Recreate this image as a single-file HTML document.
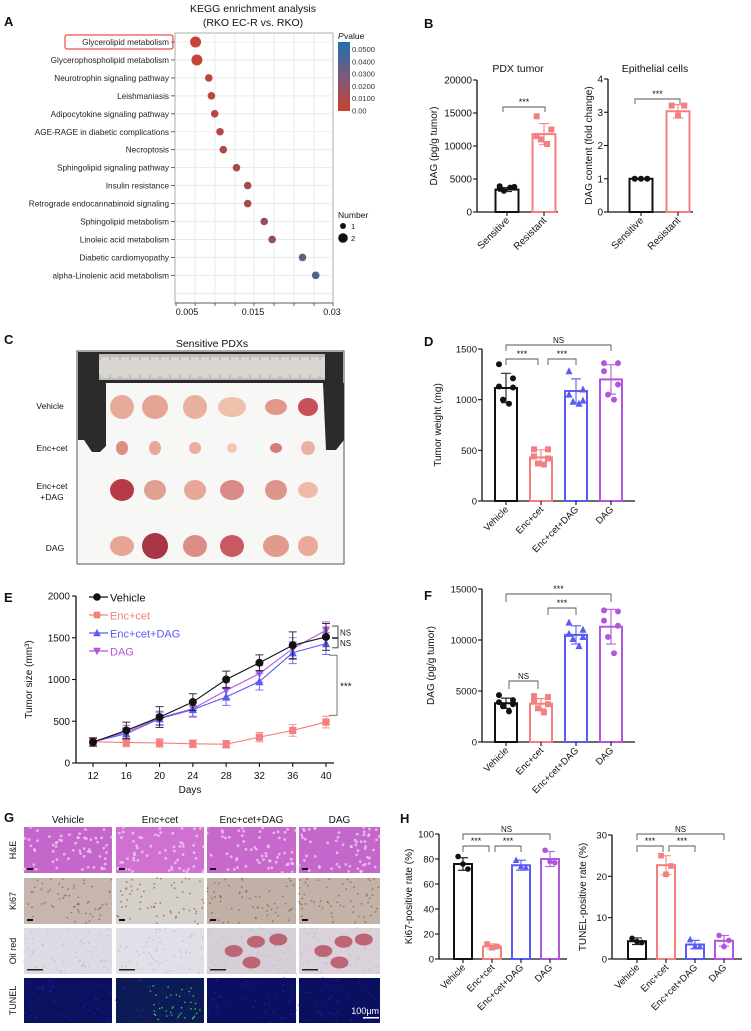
<!DOCTYPE html>
<html><head><meta charset="utf-8"><style>
html,body{margin:0;padding:0;background:#fff;}
svg{display:block;font-family:"Liberation Sans",Arial,sans-serif;}
</style></head><body>
<svg id="fig" width="751" height="1031" viewBox="0 0 751 1031" xmlns="http://www.w3.org/2000/svg">
<g id="gA"></g>
<g id="gB"></g>
<g id="gC"></g>
<g id="gD"></g>
<g id="gE"></g>
<g id="gF"></g>
<g id="gG"></g>
<g id="gH"></g>
</svg>
<script>
// ---------- DATA ----------
const keggPathways = ["Glycerolipid metabolism","Glycerophospholipid metabolism","Neurotrophin signaling pathway","Leishmaniasis","Adipocytokine signaling pathway","AGE-RAGE in diabetic complications","Necroptosis","Sphingolipid signaling pathway","Insulin resistance","Retrograde endocannabinoid signaling","Sphingolipid metabolism","Linoleic acid metabolism","Diabetic cardiomyopathy","alpha-Linolenic acid metabolism"];
const keggRichX = [0.0063,0.0065,0.0083,0.0087,0.0092,0.0100,0.0105,0.0125,0.0142,0.0142,0.0167,0.0179,0.0225,0.0245];
const keggPval = [0.001,0.002,0.004,0.005,0.006,0.007,0.008,0.010,0.012,0.012,0.016,0.018,0.030,0.036];
const keggNumber = [2,2,1,1,1,1,1,1,1,1,1,1,1,1];
const keggTickLabels = ["0.005","0.015","0.03"];
const keggTickValues = [0.005,0.015,0.03];
const pvalLegendLabels = ["0.0500","0.0400","0.0300","0.0200","0.0100","0.00"];

const twoGroups = ["Sensitive","Resistant"];
const pdxMeans = [3400,11800];
const pdxSD = [300,1600];
const pdxPoints = [[3500,3800,3900,3700,3200],[14500,12500,11500,10300,11000]];
const pdxTicks = [0,5000,10000,15000,20000];
const epiMeans = [1.0,3.03];
const epiSD = [0.01,0.2];
const epiPoints = [[1,1,1],[3.2,3.2,2.9]];
const epiTicks = [0,1,2,3,4];

const fourGroups = ["Vehicle","Enc+cet","Enc+cet+DAG","DAG"];
const weightMeans = [1115,430,1085,1200];
const weightSD = [145,75,120,145];
const weightPoints = [[1350,1210,1130,1120,1000,960],[510,510,440,420,370,360],[1280,1100,1050,990,980,960],[1360,1360,1280,1150,1050,1000]];
const weightTicks = [0,500,1000,1500];

const dagMeans = [3800,3750,10500,11300];
const dagSD = [500,500,900,1700];
const dagPoints = [[4600,4100,3900,3700,3500,3000],[4500,4400,4000,3700,3300,2900],[11700,11000,10600,10300,10100,9400],[12900,12800,11900,11400,10300,8700]];
const dagTicks = [0,5000,10000,15000];

const days = [12,16,20,24,28,32,36,40];
const sizeVehicle = [250,390,550,730,1000,1200,1410,1510];
const sizeEnc = [255,245,240,230,225,310,390,490];
const sizeEncDAG = [255,350,530,640,790,975,1320,1430];
const sizeDAG = [255,370,540,650,870,1070,1370,1590];
const errVehicle = [50,100,125,100,100,95,160,160];
const errEnc = [50,50,50,45,45,55,70,70];
const errEncDAG = [50,70,80,90,100,100,130,130];
const errDAG = [50,80,80,90,100,100,130,100];
const sizeTicks = [0,500,1000,1500,2000];

const ki67Means = [76,10,75,80];
const ki67SD = [5,2,4,6];
const ki67Points = [[82,72,76],[12,10,9],[79,73,74],[87,77,78]];
const ki67Ticks = [0,20,40,60,80,100];
const tunelMeans = [4.3,22.7,3.5,4.4];
const tunelSD = [0.8,2.3,1.0,1.3];
const tunelPoints = [[5.0,4.0,4.2],[25,22.5,20.5],[4.7,3.0,3.0],[5.7,4.5,3.0]];
const tunelTicks = [0,10,20,30];

// ---------- HELPERS ----------
const NS='http://www.w3.org/2000/svg';
function el(parent,tag,attrs,text){const e=document.createElementNS(NS,tag);for(const k in attrs)e.setAttribute(k,attrs[k]);if(text!==undefined)e.textContent=text;parent.appendChild(e);return e;}
function txt(parent,x,y,s,size,anchor,extra){const t=el(parent,'text',Object.assign({x:x,y:y,'font-size':size,'text-anchor':anchor||'start',fill:'#111'},extra||{}),s);return t;}
const colors=['#111111','#f47f7f','#5a5af5','#b256dd'];
function marker(g,shape,x,y,r,c){
  let m;
  if(shape==='circle') m=el(g,'circle',{cx:x,cy:y,r:r,fill:c});
  else if(shape==='square') m=el(g,'rect',{x:x-r,y:y-r,width:2*r,height:2*r,fill:c});
  else if(shape==='tri') m=el(g,'polygon',{points:`${x},${y-r-1} ${x-r-0.5},${y+r} ${x+r+0.5},${y+r}`,fill:c});
  else m=el(g,'polygon',{points:`${x},${y+r+1} ${x-r-0.5},${y-r} ${x+r+0.5},${y-r}`,fill:c});
  return m;
}
function bracket(g,x1,x2,y,label,drop,name){
  const b=el(g,'path',{d:`M${x1},${y+drop}V${y}H${x2}V${y+drop}`,fill:'none',stroke:'#555','stroke-width':0.9});
  
  
  const t=txt(g,(x1+x2)/2,y-2,label,label==='NS'?8:9,'middle');
  
  
}
function barChart(o){
  const g=o.g;
  const ys=v=>o.y0-(v/o.max)*(o.y0-o.yTop);
  const xs=i=>o.x0+o.pad+i*o.band;
  const shapes=o.shapes;
  // y axis
  el(g,'line',{x1:o.x0,y1:o.yTop,x2:o.x0,y2:o.y0,stroke:'#111','stroke-width':1.3});
  el(g,'line',{x1:o.x0,y1:o.y0,x2:o.xEnd,y2:o.y0,stroke:'#111','stroke-width':1.3});
  o.ticks.forEach(t=>{
    el(g,'line',{x1:o.x0-4,y1:ys(t),x2:o.x0,y2:ys(t),stroke:'#111','stroke-width':1.1});
    const lab=txt(g,o.x0-5,ys(t)+3.5,String(t),o.fs||9.5,'end');
    
    
  });
  const yl=txt(g,0,0,o.ylabel,o.yfs||10,'middle',{transform:`translate(${o.ylx},${(o.yTop+o.y0)/2}) rotate(-90)`});
  
  
  o.cats.forEach((c,i)=>{
    const cx=xs(i), col=o.colors[i];
    const bar=el(g,'rect',{x:cx-o.bw/2,y:ys(o.means[i]),width:o.bw,height:o.y0-ys(o.means[i]),fill:'#fff',stroke:col,'stroke-width':2});
    
    
    // error bar
    const top=ys(o.means[i]+o.sd[i]), bot=ys(o.means[i]-o.sd[i]);
    el(g,'path',{d:`M${cx},${top}V${bot}M${cx-5},${top}H${cx+5}M${cx-5},${bot}H${cx+5}`,stroke:col,'stroke-width':1.2,fill:'none',opacity:0.9});
    const n=o.points[i].length;
    o.points[i].forEach((v,j)=>{
      const off=n>=5?((j%2===0?-1:1)*(j<n-2?7:3)):(j===0?-6:(j===1?6:0));
      const m=marker(g,shapes[i],cx+off*(o.bw/22),ys(v),o.mr||3,col);
      
      
    });
    el(g,'line',{x1:cx,y1:o.y0,x2:cx,y2:o.y0+4,stroke:'#111','stroke-width':1.1});
    const xl=txt(g,0,0,c,o.fs||9.5,'end',{transform:`translate(${cx+3},${o.y0+9}) rotate(-45)`});
    
    
  });
  return {xs,ys};
}

// ---------- PANEL A ----------
(function(){
  const g=document.getElementById('gA');
  const lab=txt(g,4,26,'A',13,'start',{'font-weight':'bold'});
  
  const t1=txt(g,253,12,'KEGG enrichment analysis',10.5,'middle');
  
  txt(g,253,26,'(RKO EC-R vs. RKO)',10.5,'middle');
  const L=175,R=333,T=33,B=303;
  el(g,'rect',{x:L,y:T,width:R-L,height:B-T,fill:'#fff',stroke:'#999','stroke-width':0.8});
  [195,215,235,254,274,294,314].forEach(x=>el(g,'line',{x1:x,y1:T,x2:x,y2:B,stroke:'#e6e6e6','stroke-width':0.8}));
  const rowY=i=>42+i*17.95;
  const xs=v=>187+(v-0.005)*6600;
  for(let i=0;i<=14;i++) el(g,'line',{x1:L,y1:rowY(i),x2:R,y2:rowY(i),stroke:'#e6e6e6','stroke-width':0.8});
  el(g,'line',{x1:L,y1:B,x2:R,y2:B,stroke:'#444','stroke-width':0.8});
  [176,195,215,235,254,274,294,314,333].forEach(x=>el(g,'line',{x1:x,y1:B,x2:x,y2:B+3,stroke:'#444','stroke-width':0.8}));
  keggTickValues.forEach((v,i)=>{
    const x=i===2?332:xs(v);
    const tl=txt(g,x,B+12,keggTickLabels[i],9,'middle');
    
  });
  function pcol(p){const f=Math.min(p/0.05,1);
    const a=[203,65,52],b=[38,110,170];
    return `rgb(${Math.round(a[0]+(b[0]-a[0])*f)},${Math.round(a[1]+(b[1]-a[1])*f)},${Math.round(a[2]+(b[2]-a[2])*f)})`;}
  keggPathways.forEach((p,i)=>{
    el(g,'line',{x1:171,y1:rowY(i),x2:175,y2:rowY(i),stroke:'#444','stroke-width':0.8});
    const t=txt(g,169,rowY(i)+3,p,8.2,'end',{fill:'#222'});
    
    const d=el(g,'circle',{cx:xs(keggRichX[i]),cy:rowY(i),r:keggNumber[i]===2?5.5:3.8,fill:pcol(keggPval[i])});
    
    
  });
  const hb=el(g,'rect',{x:65,y:35,width:108,height:14,rx:2,fill:'none',stroke:'#e22','stroke-width':1});
  
  // color legend
  const defs=el(g,'defs',{});
  const lg=el(defs,'linearGradient',{id:'pg',x1:0,y1:1,x2:0,y2:0});
  el(lg,'stop',{offset:'0','stop-color':'#c9402f'});
  el(lg,'stop',{offset:'0.5','stop-color':'#7a5a7a'});
  el(lg,'stop',{offset:'1','stop-color':'#1f6fb0'});
  txt(g,338,39,'P',8.5,'start',{'font-style':'italic'});
  txt(g,344,39,' value',8.5);
  const cb=el(g,'rect',{x:338,y:42,width:12,height:69,fill:'url(#pg)'});
  
  pvalLegendLabels.forEach((l,i)=>{const y=49+i*12.3;txt(g,352,y+3,l,7.5,'start',{fill:'#333'});});
  const nl=txt(g,338,218,'Number',8.5);
  el(g,'circle',{cx:343,cy:226,r:3,fill:'#111'});txt(g,351,229,'1',7.5);
  el(g,'circle',{cx:343,cy:238,r:4.8,fill:'#111'});txt(g,351,241,'2',7.5);
})();

// ---------- PANEL B ----------
(function(){
  const g=document.getElementById('gB');
  const l=txt(g,424,28,'B',13,'start',{'font-weight':'bold'});
  
  const g1=el(g,'g',{});
  txt(g1,518,72,'PDX tumor',10.5,'middle');
  barChart({g:g1,x0:477,xEnd:558,y0:212,yTop:80,max:20000,pad:30,band:37,bw:23,ticks:pdxTicks,cats:twoGroups,means:pdxMeans,sd:pdxSD,points:pdxPoints,colors:[colors[0],colors[1]],shapes:['circle','square'],ylabel:'DAG (pg/g tumor)',ylx:437,fs:10});
  bracket(g1,503,545,107,'***',5,'sig-bracket');
  const g2=el(g,'g',{});
  txt(g2,655,72,'Epithelial cells',10.5,'middle');
  barChart({g:g2,x0:608,xEnd:693,y0:212,yTop:79,max:4,pad:33,band:37,bw:23,ticks:epiTicks,cats:twoGroups,means:epiMeans,sd:epiSD,points:epiPoints,colors:[colors[0],colors[1]],shapes:['circle','square'],ylabel:'DAG content (fold change)',ylx:592,fs:10});
  bracket(g2,635,680,99,'***',5,'sig-bracket');
})();

// ---------- PANEL C ----------
(function(){
  const g=document.getElementById('gC');
  const l=txt(g,4,344,'C',13,'start',{'font-weight':'bold'});
  
  txt(g,212,347,'Sensitive PDXs',10.5,'middle');
  const ph=el(g,'rect',{x:77,y:351,width:267,height:213,fill:'#f7f7f6',stroke:'#555','stroke-width':1});
  
  el(g,'rect',{x:78,y:352,width:265,height:31,fill:'#2a2a2a'});
  el(g,'rect',{x:99,y:354,width:226,height:26,fill:'#d9d6cf'});
  for(let i=0;i<=112;i++){const x=100+i*2;el(g,'line',{x1:x,y1:354,x2:x,y2:354+(i%5===0?6:3),stroke:'#555','stroke-width':0.4});el(g,'line',{x1:x,y1:380,x2:x,y2:380-(i%5===0?5:2),stroke:'#555','stroke-width':0.4});}
  el(g,'path',{d:'M78,383H106V446L100,452H92L84,440H78Z',fill:'#2b2b2b'});
  el(g,'path',{d:'M323,383H344V440L336,450H326Z',fill:'#2b2b2b'});
  const rows=['Vehicle','Enc+cet','Enc+cet','DAG'];
  txt(g,50,409,'Vehicle',8.5,'middle');
  txt(g,52,451,'Enc+cet',8.5,'middle');
  txt(g,52,489,'Enc+cet',8.5,'middle');
  txt(g,52,500,'+DAG',8.5,'middle');
  txt(g,55,551,'DAG',8.5,'middle');
  const cols=[122,155,195,232,276,308];
  const rowY=[407,448,490,546];
  const rx=[[12,13,12,14,11,10],[6,6,6,5,6,7],[12,11,11,12,11,10],[12,13,12,12,13,10]];
  const ry=[[12,12,12,10,8,9],[7,7,6,5,5,7],[11,10,10,10,10,8],[10,13,11,11,11,10]];
  const fills=[['#e8ab9a','#e5a592','#eab09e','#efc1aa','#e2988b','#c8505a'],['#dc8e86','#e7a897','#e9ad9c','#f2c6b2','#d77c7a','#eab2a0'],['#b83a48','#e0a092','#e7a897','#d98a86','#dd9489','#eebba6'],['#e6a696','#a83446','#dc8e86','#c95a62','#e29a8a','#eaa999']];
  rowY.forEach((y,r)=>cols.forEach((x,c)=>{const e=el(g,'ellipse',{cx:x,cy:y,rx:rx[r][c],ry:ry[r][c],fill:fills[r][c]});}));
})();

// ---------- PANEL D ----------
(function(){
  const g=document.getElementById('gD');
  const l=txt(g,424,346,'D',13,'start',{'font-weight':'bold'});
  
  const s=barChart({g:g,x0:482,xEnd:635,y0:501,yTop:349,max:1500,pad:24,band:35,bw:22,ticks:weightTicks,cats:fourGroups,means:weightMeans,sd:weightSD,points:weightPoints,colors:colors,shapes:['circle','square','tri','circle'],ylabel:'Tumor weight (mg)',ylx:441,fs:9.5});
  bracket(g,s.xs(0),s.xs(3),345,'NS',6,'sig-ns');
  bracket(g,s.xs(0),s.xs(1)-3,359,'***',6,'sig-vehicle-enccet');
  bracket(g,s.xs(1)+7,s.xs(2),359,'***',6,'sig-enccet-encdag');
})();

// ---------- PANEL F ----------
(function(){
  const g=document.getElementById('gF');
  const l=txt(g,424,600,'F',13,'start',{'font-weight':'bold'});
  
  const s=barChart({g:g,x0:482,xEnd:635,y0:742,yTop:589,max:15000,pad:24,band:35,bw:22,ticks:dagTicks,cats:fourGroups,means:dagMeans,sd:dagSD,points:dagPoints,colors:colors,shapes:['circle','square','tri','circle'],ylabel:'DAG (pg/g tumor)',ylx:434,fs:9.5});
  bracket(g,s.xs(0),s.xs(3),594,'***',8,'sig-vehicle-dag');
  bracket(g,s.xs(1)+7,s.xs(2),608,'***',7,'sig-enccet-encdag');
  bracket(g,s.xs(0)+3,s.xs(1)-3,681,'NS',8,'sig-ns');
})();

// ---------- PANEL E ----------
(function(){
  const g=document.getElementById('gE');
  const l=txt(g,4,602,'E',13,'start',{'font-weight':'bold'});
  
  const x0=76,y0=763,yTop=596,xEnd=334;
  const xs=d=>93+(d-12)*(233/28);
  const ys=v=>y0-v/2000*(y0-yTop);
  el(g,'line',{x1:x0,y1:yTop,x2:x0,y2:y0,stroke:'#111','stroke-width':1.3});
  el(g,'line',{x1:x0,y1:y0,x2:xEnd,y2:y0,stroke:'#111','stroke-width':1.3});
  sizeTicks.forEach(t=>{el(g,'line',{x1:x0-4,y1:ys(t),x2:x0,y2:ys(t),stroke:'#111','stroke-width':1.1});
    const lb=txt(g,x0-6,ys(t)+3.5,String(t),10,'end');});
  days.forEach(d=>{el(g,'line',{x1:xs(d),y1:y0,x2:xs(d),y2:y0+4,stroke:'#111','stroke-width':1.1});
    const lb=txt(g,xs(d),y0+16,String(d),10,'middle');});
  const xt=txt(g,190,793,'Days',10,'middle');
  const yt=txt(g,0,0,'Tumor size (mm³)',10,'middle',{transform:`translate(32,${(y0+yTop)/2}) rotate(-90)`});
  const series=[[sizeDAG,errDAG,colors[3],'inv','DAG'],[sizeEncDAG,errEncDAG,colors[2],'tri','Enc+cet+DAG'],[sizeEnc,errEnc,colors[1],'square','Enc+cet'],[sizeVehicle,errVehicle,colors[0],'circle','Vehicle']];
  series.forEach(([vals,errs,c,sh,name])=>{
    const sg=el(g,'g',{});
    
    
    el(sg,'polyline',{points:vals.map((v,i)=>xs(days[i])+','+ys(v)).join(' '),fill:'none',stroke:c,'stroke-width':1.1});
    vals.forEach((v,i)=>{const x=xs(days[i]);
      el(sg,'path',{d:`M${x},${ys(v+errs[i])}V${ys(v-errs[i])}M${x-4},${ys(v+errs[i])}H${x+4}M${x-4},${ys(v-errs[i])}H${x+4}`,stroke:c,'stroke-width':1,fill:'none',opacity:0.85});
      const m=marker(sg,sh,x,ys(v),sh==='circle'?4:3.6,c);
      
      
    });
  });
  const legend=[['Vehicle',colors[0],'circle'],['Enc+cet',colors[1],'square'],['Enc+cet+DAG',colors[2],'tri'],['DAG',colors[3],'inv']];
  legend.forEach(([n,c,sh],i)=>{const y=597+i*18;
    const lg=el(g,'g',{});
    el(lg,'line',{x1:89,y1:y,x2:108,y2:y,stroke:c,'stroke-width':1.2});
    marker(lg,sh,97,y,sh==='circle'?3.8:3.3,c);
    txt(lg,110,y+4.5,n,11,'start',{fill:c==='#111111'?'#111':c});});
  const xe=xs(40);
  el(g,'path',{d:`M${xe+6},${ys(1640)}H${xe+12}V${ys(1490)}H${xe+6}`,stroke:'#333',fill:'none','stroke-width':0.9});
  txt(g,xe+14,ys(1565)+3,'NS',8);
  el(g,'path',{d:`M${xe+6},${ys(1500)}H${xe+12}V${ys(1380)}H${xe+6}`,stroke:'#333',fill:'none','stroke-width':0.9});
  txt(g,xe+14,ys(1440)+3,'NS',8);
  el(g,'path',{d:`M${xe+3},${ys(1290)}H${xe+11}V${ys(570)}H${xe+3}`,stroke:'#777',fill:'none','stroke-width':1});
  const st=txt(g,xe+14,ys(930)+4,'***',10);
})();

// ---------- PANEL G ----------
(function(){
  const g=document.getElementById('gG');
  const l=txt(g,4,822,'G',13,'start',{'font-weight':'bold'});
  
  const colX=[24,116,207,299],colW=[88,88,89,81];
  const rowY=[827,878,928,978],rowH=[46,46,46,45];
  ['Vehicle','Enc+cet','Enc+cet+DAG','DAG'].forEach((n,i)=>{const t=txt(g,colX[i]+colW[i]/2,823,n,10,'middle');});
  ['H&E','Ki67','Oil red','TUNEL'].forEach((n,i)=>{const t=txt(g,0,0,n,9,'middle',{transform:`translate(16,${rowY[i]+rowH[i]/2}) rotate(-90)`});});
  const base=[['#c466cc','#d070d0','#c868cc','#c466cc'],['#c6b6ad','#d6d0cb','#c1b0a6','#c3b2a8'],['#dcdce4','#dfe0e8','#d7cfd8','#dad1da'],['#0b1060','#0c1a55','#0a0f62','#0a0f60']];
  rowY.forEach((y,r)=>colX.forEach((x,c)=>{
    const im=el(g,'rect',{x:x,y:y,width:colW[c],height:rowH[r],fill:base[r][c]});
    
  }));
  // texture speckles (deterministic)
  let seed=7;const rnd=()=>{seed=(seed*16807)%2147483647;return seed/2147483647;};
  rowY.forEach((y,r)=>colX.forEach((x,c)=>{
    const n=r===3?40:60;
    for(let k=0;k<n;k++){const px=x+rnd()*colW[c],py=y+rnd()*rowH[r];
      const f=r===0?'#f0d8f0':r===1?'#8a5a48':r===2?'#b8bcd0':'#1c2ab0';
      el(g,'circle',{cx:px,cy:py,r:r===0?1.4:0.9,fill:f,opacity:0.7});}
    if(r===3&&c===1)for(let k=0;k<40;k++)el(g,'circle',{cx:x+30+rnd()*55,cy:y+5+rnd()*38,r:0.8,fill:'#3ccc3c'});
    if(r===2&&c>=2){[[0.3,0.5],[0.55,0.3],[0.8,0.25],[0.5,0.75]].forEach(([a,b])=>el(g,'ellipse',{cx:x+a*colW[c],cy:y+b*rowH[r],rx:9,ry:6,fill:'#b54a5a',opacity:0.8}));}
  }));
  colX.forEach((x,c)=>{[0,1].forEach(r=>el(g,'rect',{x:x+3,y:rowY[r]+rowH[r]-5,width:6,height:2,fill:'#111'}));
    el(g,'rect',{x:x+3,y:rowY[2]+rowH[2]-5,width:16,height:1.5,fill:'#222'});});
  el(g,'rect',{x:363,y:1017,width:16,height:1.5,fill:'#fff'});
  const sb=txt(g,379,1014,'100μm',9,'end',{fill:'#fff'});
})();

// ---------- PANEL H ----------
(function(){
  const g=document.getElementById('gH');
  const l=txt(g,400,823,'H',13,'start',{'font-weight':'bold'});
  
  const g1=el(g,'g',{});
  const s1=barChart({g:g1,x0:439,xEnd:567,y0:959,yTop:834,max:100,pad:24,band:29,bw:18,ticks:ki67Ticks,cats:fourGroups,means:ki67Means,sd:ki67SD,points:ki67Points,colors:colors,shapes:['circle','square','tri','circle'],ylabel:'Ki67-positive rate (%)',ylx:412,fs:9.5,mr:2.8});
  bracket(g1,s1.xs(0),s1.xs(3),834,'NS',6,'sig-ns');
  bracket(g1,s1.xs(0),s1.xs(1)-3,846,'***',6,'sig-vehicle-enccet');
  bracket(g1,s1.xs(1)+3,s1.xs(2),846,'***',6,'sig-enccet-encdag');
  const g2=el(g,'g',{});
  const s2=barChart({g:g2,x0:612,xEnd:742,y0:959,yTop:835,max:30,pad:25,band:29,bw:18,ticks:tunelTicks,cats:fourGroups,means:tunelMeans,sd:tunelSD,points:tunelPoints,colors:colors,shapes:['circle','square','tri','circle'],ylabel:'TUNEL-positive rate (%)',ylx:586,fs:9.5,mr:2.8});
  bracket(g2,s2.xs(0),s2.xs(3),834,'NS',6,'sig-ns');
  bracket(g2,s2.xs(0),s2.xs(1)-3,846,'***',6,'sig-vehicle-enccet');
  bracket(g2,s2.xs(1)+3,s2.xs(2),846,'***',6,'sig-enccet-encdag');
})();
</script>
</body></html>
